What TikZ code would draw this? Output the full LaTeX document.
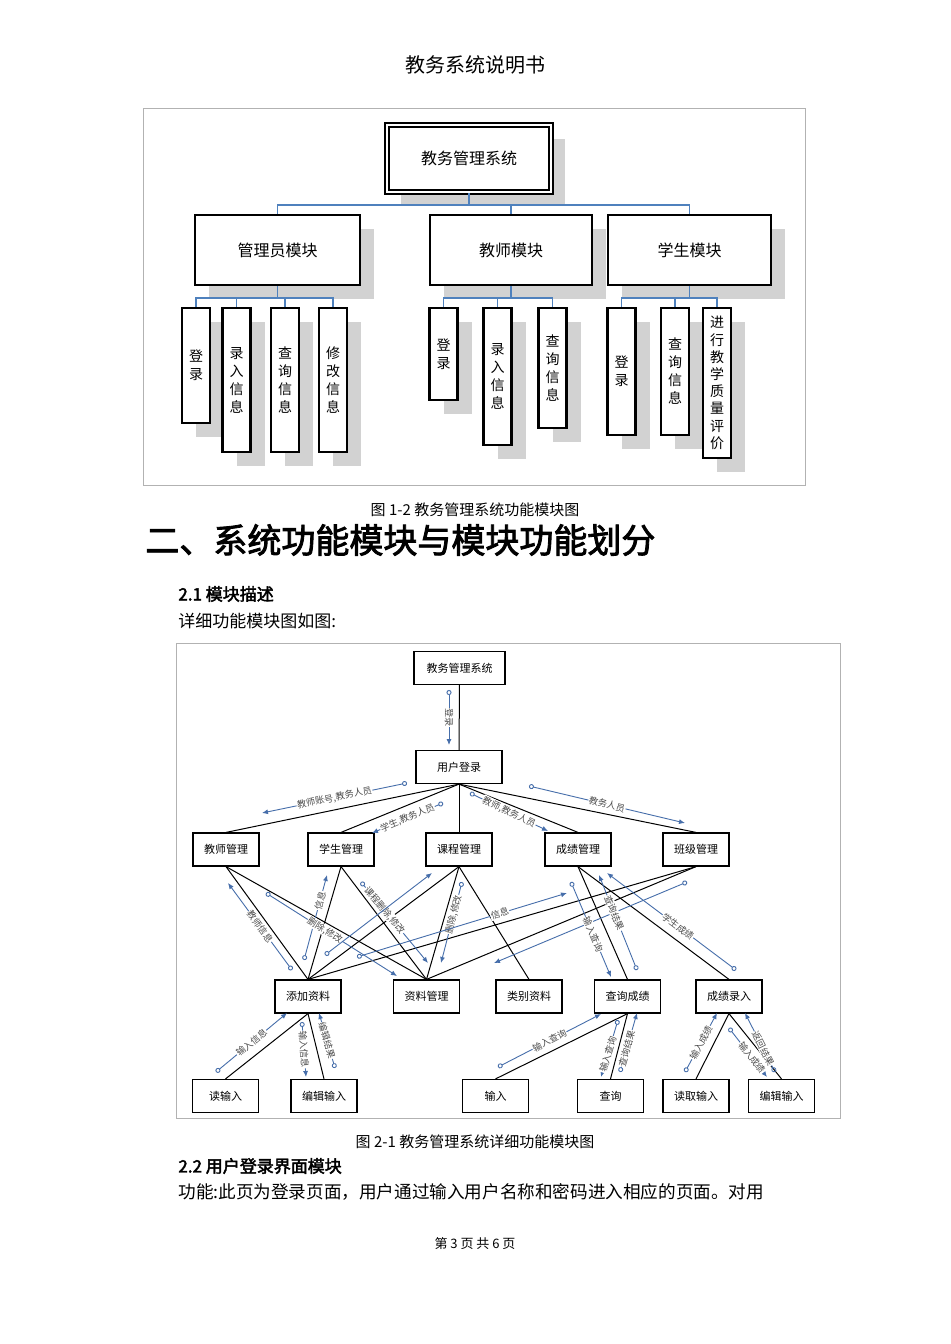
\documentclass[tikz,border=0pt]{standalone}
\usepackage{fontspec}
\setmainfont{Noto Sans CJK SC}[AutoFakeBold=2.5]
\usetikzlibrary{arrows.meta,shadows}
\definecolor{lb}{RGB}{79,129,189}
\definecolor{ab}{RGB}{70,110,170}
\begin{document}
\begin{tikzpicture}[x=0.5pt,y=-0.5pt,
  tb/.style={draw=black,line width=1.2pt,fill=white,inner sep=0pt,align=center,font=\fontsize{8}{9}\selectfont,
    drop shadow={shadow xshift=7pt,shadow yshift=-7pt,fill=gray!35,opacity=1}},
  lf/.style={tb,minimum width=14pt,font=\fontsize{7}{9}\selectfont},
  bl/.style={draw=lb,line width=0.6pt},
  bx/.style={draw=black,line width=0.6pt,fill=white,inner sep=0pt,minimum width=33pt,minimum height=16.5pt,font=\fontsize{5.5}{6}\selectfont},
  ln/.style={draw=black,line width=0.5pt},
  ann/.style={draw=ab,line width=0.45pt,{Circle[open,length=2.5pt,width=2.5pt]}-{Latex[length=3pt,width=2.5pt]}},
  lab/.style={midway,sloped,fill=white,inner sep=0.3pt,font=\fontsize{4.6}{5}\selectfont,text=black!70}]
\useasboundingbox (0,0) rectangle (950,1344);
\fill[white] (0,0) rectangle (950,1344);
% page texts
\node (title) at (475,65) {\fontsize{10}{10}\selectfont 教务系统说明书};
\draw[black!30,line width=0.5pt] (143,108) rectangle (805,485);
\node (cap1) at (475,510) {\fontsize{7.5}{7.5}\selectfont 图 1-2 教务管理系统功能模块图};
\node[anchor=west,inner sep=0pt] (h2) at (145,540) {\fontsize{17}{17}\selectfont\bfseries 二、系统功能模块与模块功能划分};
\node[anchor=west,inner sep=0pt] (h21) at (178,594) {\fontsize{8.5}{8.5}\selectfont\bfseries 2.1 模块描述};
\node[anchor=west,inner sep=0pt] (p1) at (178,621) {\fontsize{8.5}{8.5}\selectfont 详细功能模块图如图:};
\draw[black!30,line width=0.5pt] (176,643) rectangle (840,1118);
\node (cap2) at (475,1142) {\fontsize{7.5}{7.5}\selectfont 图 2-1 教务管理系统详细功能模块图};
\node[anchor=west,inner sep=0pt] (h22) at (178,1166) {\fontsize{8.5}{8.5}\selectfont\bfseries 2.2 用户登录界面模块};
\node[anchor=west,inner sep=0pt] (p2) at (178,1192) {\fontsize{8.8}{8.8}\selectfont 功能:此页为登录页面，用户通过输入用户名称和密码进入相应的页面。对用};
\node (foot) at (475,1244) {\fontsize{6.5}{6.5}\selectfont 第 3 页 共 6 页};
% top diagram
\node[tb,double,double distance=1pt,minimum width=82pt,minimum height=33.5pt] (root) at (469,158.5) {教务管理系统};
\node[tb,minimum width=82.5pt,minimum height=35pt] (m1) at (277.5,250) {管理员模块};
\node[tb,minimum width=81pt,minimum height=35pt] (m2) at (511,250) {教师模块};
\node[tb,minimum width=81.5pt,minimum height=35pt] (m3) at (689.5,250) {学生模块};
\node[lf,minimum height=57.5pt] (a1) at (196,365.5) {登\\录};
\node[lf,minimum height=72pt] (a2) at (236.5,380) {录\\入\\信\\息};
\node[lf,minimum height=72pt] (a3) at (285,380) {查\\询\\信\\息};
\node[lf,minimum height=72pt] (a4) at (333,380) {修\\改\\信\\息};
\node[lf,minimum height=46pt] (b1) at (443.5,354) {登\\录};
\node[lf,minimum height=68.5pt] (b2) at (497.5,376.5) {录\\入\\信\\息};
\node[lf,minimum height=60pt] (b3) at (552.5,368) {查\\询\\信\\息};
\node[lf,minimum height=63.5pt] (c1) at (621.5,371.5) {登\\录};
\node[lf,minimum height=63.5pt] (c2) at (675,371.5) {查\\询\\信\\息};
\node[lf,minimum height=75pt,font=\fontsize{7}{8.6}\selectfont] (c3) at (717,383) {进\\行\\教\\学\\质\\量\\评\\价};
\coordinate (r0) at (469,205);
\draw[bl] (root.south) -- (r0);
\draw[bl] (m1.north) |- (r0); \draw[bl] (m2.north) |- (r0); \draw[bl] (m3.north) |- (r0);
\coordinate (q1) at (277.5,298); \coordinate (q2) at (511,298); \coordinate (q3) at (689.5,298);
\draw[bl] (m1.south) -- (q1); \draw[bl] (m2.south) -- (q2); \draw[bl] (m3.south) -- (q3);
\foreach \n in {a1,a2,a3,a4} \draw[bl] (\n.north) |- (q1);
\foreach \n in {b1,b2,b3} \draw[bl] (\n.north) |- (q2);
\foreach \n in {c1,c2,c3} \draw[bl] (\n.north) |- (q3);
% bottom diagram
\node[bx,minimum width=45.5pt] (sys) at (459.5,668) {教务管理系统};
\node[bx,minimum width=43pt] (dl) at (459,767) {用户登录};
\node[bx] (js) at (226,849.5) {教师管理};
\node[bx] (xs) at (341,849.5) {学生管理};
\node[bx] (kc) at (459,849.5) {课程管理};
\node[bx] (cj) at (578,849.5) {成绩管理};
\node[bx] (bj) at (696,849.5) {班级管理};
\node[bx] (tj) at (308,996.5) {添加资料};
\node[bx] (zl) at (426.5,996.5) {资料管理};
\node[bx] (lb) at (529,996.5) {类别资料};
\node[bx] (cx) at (627.5,996.5) {查询成绩};
\node[bx] (lr) at (729,996.5) {成绩录入};
\node[bx] (d1) at (225.5,1096) {读输入};
\node[bx] (d2) at (324,1096) {编辑输入};
\node[bx] (d3) at (495.5,1096) {输入};
\node[bx] (d4) at (610.5,1096) {查询};
\node[bx] (d5) at (696,1096) {读取输入};
\node[bx] (d6) at (781.5,1096) {编辑输入};
\draw[ln] (sys) -- (dl);
\foreach \n in {js,xs,kc,cj,bj} \draw[ln] (dl.south) -- (\n.north);
\foreach \a/\b in {js/tj,js/zl,xs/tj,xs/zl,kc/tj,kc/zl,kc/lb,cj/cx,cj/lr,bj/tj,bj/zl}
  \draw[ln] (\a.south) -- (\b.north);
\foreach \a/\b in {d1/tj,d2/tj,d3/cx,d4/cx,d5/lr,d6/lr} \draw[ln] (\a.north) -- (\b.south);
% annotations
\draw[ann] (449,690) -- node[lab]{登录} (449,745);
\draw[ann] (407,783) -- node[lab]{教师账号,教务人员} (262,813);
\draw[ann] (443,803) -- node[lab]{学生,教务人员} (372,833);
\draw[ann] (470,793) -- node[lab]{教师,教务人员} (548,831);
\draw[ann] (529,786) -- node[lab]{教务人员} (685,823);
\draw[ann] (292,970) -- node[lab]{教师信息} (228,883);
\draw[ann] (304,960) -- node[lab,pos=0.7]{信息} (327,875);
\draw[ann] (266,893) -- node[lab,pos=0.45]{删除,修改} (397,976);
\draw[ann] (361,882) -- node[lab,pos=0.35]{课程删除,修改} (428,963);
\draw[ann] (325,955) -- (432,873);
\draw[ann] (462,882) -- node[lab,pos=0.4]{删除,修改} (441,963);
\draw[ann] (357,957) -- node[lab,pos=0.68]{信息} (567,893);
\draw[ann] (687,882) -- (494,963);
\draw[ann] (571,882) -- node[lab,pos=0.55]{输入查询} (611,977);
\draw[ann] (637,970) -- node[lab,pos=0.6]{查询结果} (599,875);
\draw[ann] (736,970) -- node[lab,pos=0.45]{学生成绩} (607,873);
\draw[ann] (216,1072) -- node[lab]{输入信息} (287,1013);
\draw[ann] (302,1022) -- node[lab]{输入信息} (306,1077);
\draw[ann] (335,1068) -- node[lab]{编辑结果} (319,1013);
\draw[ann] (498,1067) -- node[lab]{输入查询} (601,1014);
\draw[ann] (618,1020) -- node[lab,pos=0.6]{输入查询} (601,1077);
\draw[ann] (620,1072) -- node[lab,pos=0.4]{查询结果} (637,1013);
\draw[ann] (685,1072) -- node[lab]{输入成绩} (717,1013);
\draw[ann] (729,1028) -- node[lab,pos=0.6]{输入成绩} (767,1077);
\draw[ann] (775,1072) -- node[lab,pos=0.4]{返回结果} (745,1013);
\end{tikzpicture}
\end{document}
